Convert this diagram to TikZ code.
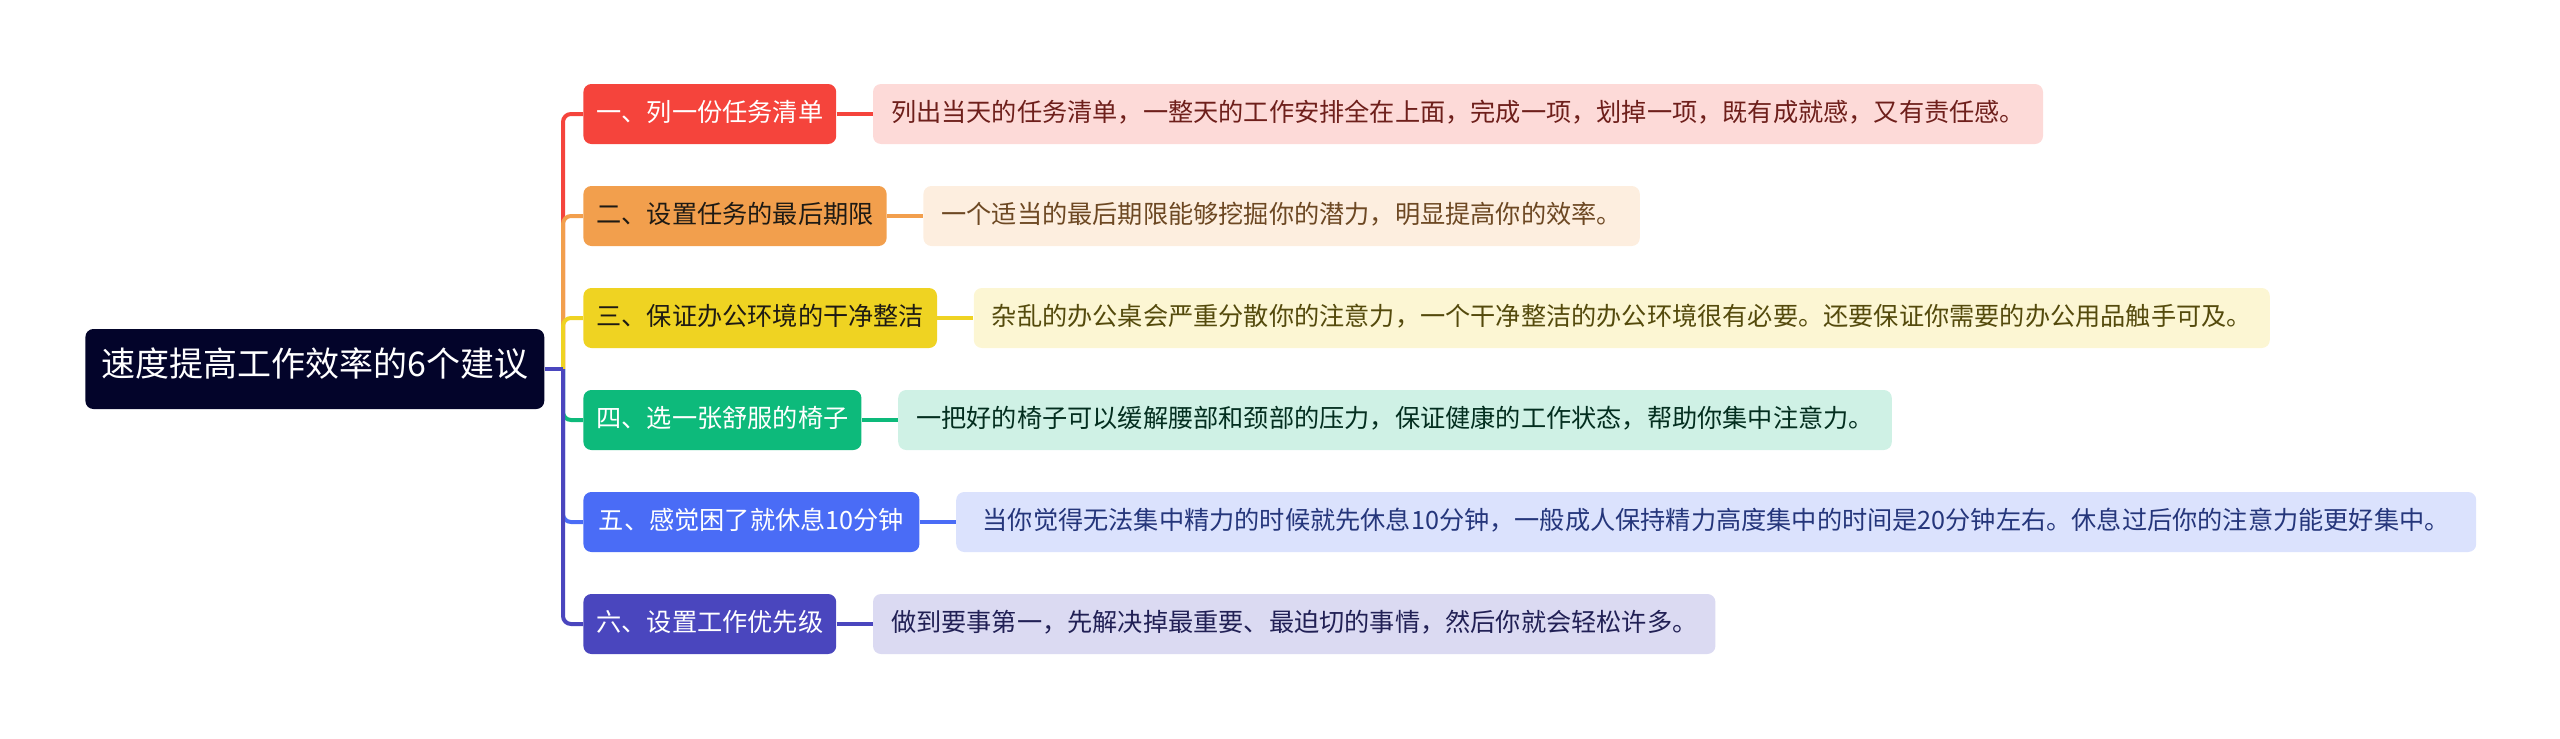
\documentclass[tikz,border=0pt]{standalone}
\usepackage{fontspec}
\usepackage{xcolor}
\usepackage{tikz}
\usetikzlibrary{positioning}
\newfontfamily\cjk{Noto Sans CJK SC}
\definecolor{noche}{HTML}{03042A}
\definecolor{rojo}{HTML}{F5443C}
\definecolor{naranja}{HTML}{F29F4D}
\definecolor{amarillo}{HTML}{EFD322}
\definecolor{verde}{HTML}{0DBA7B}
\definecolor{azul}{HTML}{4A6CF6}
\definecolor{anil}{HTML}{4A46BE}
\definecolor{negro}{HTML}{1E1A14}
\tikzset{
  every picture/.style={font=\cjk},
  raiz/.style={fill=noche, text=white, rounded corners=4pt, anchor=west, minimum height=40pt,
               inner xsep=8pt, font=\cjk\fontsize{17pt}{20pt}\selectfont, text height=0.88em, text depth=0.12em},
  rama/.style={rounded corners=4pt, anchor=west, minimum height=30pt, inner xsep=6.5pt,
               font=\cjk\fontsize{12.6pt}{15pt}\selectfont, text height=0.88em, text depth=0.12em},
  detalle/.style={rama, inner xsep=9pt},
  linea/.style={line width=2pt, rounded corners=4pt},
}
\begin{document}
\begin{tikzpicture}[x=0.5pt, y=-0.5pt]
  \useasboundingbox (0,0) rectangle (2560,739);
  \node[raiz] (titulo) at (85,369) {速度提高工作效率的6个建议};
  \node[rama, fill=rojo, text=white] (r1) at (583,114) {一、列一份任务清单};
  \node[rama, fill=naranja, text=negro] (r2) at (583,216) {二、设置任务的最后期限};
  \node[rama, fill=amarillo, text=negro] (r3) at (583,318) {三、保证办公环境的干净整洁};
  \node[rama, fill=verde, text=white] (r4) at (583,420) {四、选一张舒服的椅子};
  \node[rama, fill=azul, text=white, minimum width=168pt] (r5) at (583,522) {五、感觉困了就休息10分钟};
  \node[rama, fill=anil, text=white] (r6) at (583,624) {六、设置工作优先级};
  \node[detalle, right=18pt of r1, fill=rojo!20, text=rojo!45!black] (d1) {列出当天的任务清单，一整天的工作安排全在上面，完成一项，划掉一项，既有成就感，又有责任感。};
  \node[detalle, right=18pt of r2, fill=naranja!18, text=naranja!45!black] (d2) {一个适当的最后期限能够挖掘你的潜力，明显提高你的效率。};
  \node[detalle, right=18pt of r3, fill=amarillo!20, text=amarillo!35!black] (d3) {杂乱的办公桌会严重分散你的注意力，一个干净整洁的办公环境很有必要。还要保证你需要的办公用品触手可及。};
  \node[detalle, right=18pt of r4, fill=verde!20, text=verde!25!black] (d4) {一把好的椅子可以缓解腰部和颈部的压力，保证健康的工作状态，帮助你集中注意力。};
  \node[detalle, right=18pt of r5, fill=azul!20, text=azul!50!black, minimum width=760pt] (d5) {当你觉得无法集中精力的时候就先休息10分钟，一般成人保持精力高度集中的时间是20分钟左右。休息过后你的注意力能更好集中。};
  \node[detalle, right=18pt of r6, fill=anil!20, text=anil!45!black] (d6) {做到要事第一，先解决掉最重要、最迫切的事情，然后你就会轻松许多。};
  \coordinate (eje) at (563,369);
  \draw[linea, rojo] (eje) |- (r1.west);
  \draw[linea, naranja] (eje) |- (r2.west);
  \draw[linea, amarillo] (eje) |- (r3.west);
  \draw[linea, verde] (eje) |- (r4.west);
  \draw[linea, azul] (eje) |- (r5.west);
  \draw[linea, anil] (eje) |- (r6.west);
  \draw[linea, anil] (titulo.east) -- (eje);
  \draw[linea, rojo] (r1) -- (d1); \draw[linea, naranja] (r2) -- (d2);
  \draw[linea, amarillo] (r3) -- (d3); \draw[linea, verde] (r4) -- (d4);
  \draw[linea, azul] (r5) -- (d5); \draw[linea, anil] (r6) -- (d6);
\end{tikzpicture}
\end{document}
